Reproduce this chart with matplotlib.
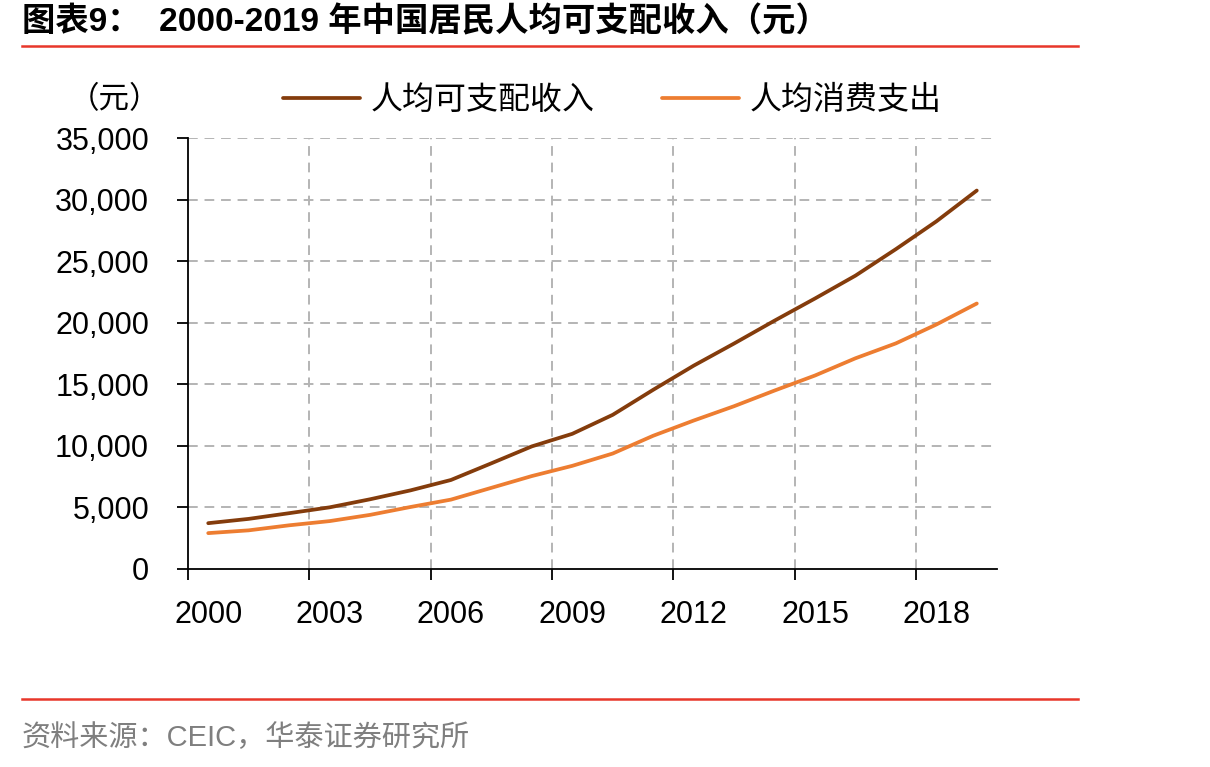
import matplotlib
matplotlib.use("Agg")
import matplotlib.pyplot as plt
from matplotlib.ticker import FuncFormatter, FixedLocator
from matplotlib.lines import Line2D

years = list(range(2000, 2020))
income = [3721, 4070, 4532, 5007, 5661, 6385, 7229, 8584, 9957, 10977,
          12520, 14551, 16510, 18311, 20167, 21966, 23821, 25974, 28228, 30733]
consumption = [2914, 3139, 3548, 3889, 4395, 5035, 5634, 6592, 7548, 8377,
               9378, 10820, 12054, 13220, 14491, 15712, 17111, 18322, 19853, 21559]
tick_years = [2000, 2003, 2006, 2009, 2012, 2015, 2018]
series_names = ["人均可支配收入", "人均消费支出"]
title = "图表9：  2000-2019 年中国居民人均可支配收入（元）"
source = "资料来源：CEIC，华泰证券研究所"

plt.rcParams['font.family'] = ['Liberation Sans', 'Noto Sans CJK SC', 'DejaVu Sans']

W, H = 1210, 767
fig = plt.figure(figsize=(W / 100, H / 100), dpi=100)

# header / footer
fig.text(22 / W, 1 - 22 / H, title, fontsize=24, fontweight='bold', va='center', ha='left',
         family=['Liberation Sans', 'Noto Sans CJK SC'])
fig.add_artist(Line2D([22 / W, 1078 / W], [1 - 46 / H, 1 - 46 / H], color='#E8372A', lw=1.8))
fig.add_artist(Line2D([22 / W, 1078 / W], [1 - 699 / H, 1 - 699 / H], color='#E8372A', lw=1.8))
fig.text(22 / W, 1 - 738 / H, source, fontsize=21, color='#7F7F7F', va='center', ha='left',
         family=['Liberation Sans', 'Noto Sans CJK SC'])

ax = fig.add_axes([188 / W, 1 - 569 / H, (997 - 188) / W, (569 - 138) / H])
x = list(range(len(years)))
ax.plot(x, income, color='#843C0C', lw=2.7, label=series_names[0], solid_capstyle='round')
ax.plot(x, consumption, color='#ED7D31', lw=2.7, label=series_names[1], solid_capstyle='round')

ax.set_xlim(-0.5, len(years) - 0.5)
ax.set_ylim(0, 35000)
ax.set_yticks(range(0, 35001, 5000))
ax.yaxis.set_major_formatter(FuncFormatter(lambda v, p: f"{int(v):,}"))

boundaries = [years.index(t) - 0.5 for t in tick_years]
ax.xaxis.set_major_locator(FixedLocator(boundaries))
ax.xaxis.set_minor_locator(FixedLocator([years.index(t) for t in tick_years]))
ax.set_xticklabels([])
ax.set_xticklabels([str(t) for t in tick_years], minor=True)
ax.tick_params(axis='x', which='major', length=8, width=1.3, direction='out', color='black')
ax.tick_params(axis='x', which='minor', length=0, pad=22, labelsize=22)
ax.tick_params(axis='y', length=8, width=1.3, direction='out', labelsize=22, pad=20)

for s in ['top', 'right']:
    ax.spines[s].set_visible(False)
for s in ['left', 'bottom']:
    ax.spines[s].set_linewidth(1.3)
    ax.spines[s].set_color('black')

for b in boundaries[1:]:
    ax.axvline(b, color='#B4B4B4', lw=1.4, ls=(0, (5, 3.5)), zorder=0)
for yv in range(5000, 35001, 5000):
    ax.axhline(yv, color='#B4B4B4', lw=1.4, ls=(0, (5, 3.5)), zorder=0)

fig.text(115 / W, 1 - 100 / H, "（元）", fontsize=22, ha='center', va='center',
         family=['Noto Sans CJK SC'], fontweight='light')
leg = ax.legend(loc='center left', bbox_to_anchor=(283 / W, 1 - 100 / H),
                bbox_transform=fig.transFigure, ncol=2, frameon=False,
                prop={'family': 'Noto Sans CJK SC', 'size': 23, 'weight': 'light'},
                handlelength=2.4, handletextpad=0.35, columnspacing=2.1,
                borderpad=0, borderaxespad=0)

fig.savefig("out.png", dpi=100)
